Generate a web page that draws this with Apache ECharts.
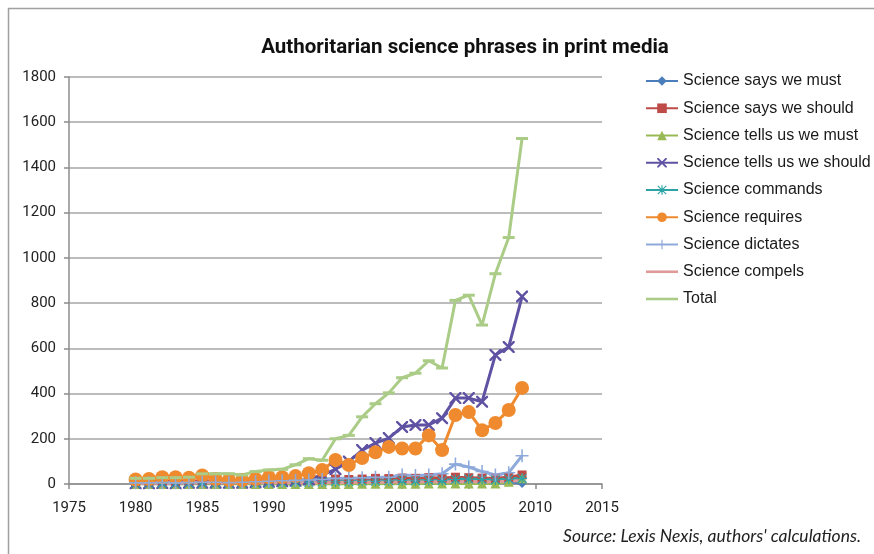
<!DOCTYPE html>
<html>
<head>
<meta charset="utf-8">
<script src="https://cdn.jsdelivr.net/npm/echarts@6/dist/echarts.min.js"></script>
<style>
  html, body { margin: 0; padding: 0; background: #ffffff; }
  #chart { width: 874px; height: 554px; }
</style>
</head>
<body>
<div id="chart"></div>
<script>
// Years covered by the counts
const years = [1980,1981,1982,1983,1984,1985,1986,1987,1988,1989,
               1990,1991,1992,1993,1994,1995,1996,1997,1998,1999,
               2000,2001,2002,2003,2004,2005,2006,2007,2008,2009];

// Phrase counts per year
const saysMust      = [2,1,2,1,2,2,3,2,2,3, 3,4,3,4,5,5,6,5,6,8, 7,8,9,10,12,11,10,9,12,2];
const saysShould    = [10,10,12,10,12,14,12,10,12,14, 15,16,18,16,20,22,20,22,25,24, 26,25,28,27,30,28,26,25,30,40];
const tellsMust     = [0,0,0,0,0,0,0,0,0,0, 0,0,0,0,0,0,0,1,1,1, 1,1,2,2,2,2,2,2,10,25];
const tellsShould   = [3,3,4,3,5,5,6,5,6,8, 10,12,14,20,40,65,99,150,181,203, 252,261,261,291,380,380,364,571,606,829];
const commands      = [3,3,4,3,4,5,5,4,5,6, 6,7,8,8,9,10,10,12,12,14, 15,14,16,15,20,22,20,18,22,25];
const requires      = [20,22,30,30,28,38,22,18,18,22, 30,30,35,48,62,106,84,115,140,164, 157,157,215,150,305,318,238,270,327,425];
const dictates      = [5,5,6,5,6,8,8,6,8,10, 12,14,16,18,20,25,25,28,30,30, 40,38,40,45,88,75,55,40,50,125];
const compels       = [3,3,3,3,4,4,4,4,4,5, 5,5,6,6,6,7,7,8,8,8, 9,9,10,10,10,11,10,10,12,15];
const total         = [25,25,28,28,30,45,45,45,40,55, 62,65,85,112,105,200,215,297,355,403, 470,490,545,513,812,835,703,930,1090,1528];

// Axis ticks
const xTicks = [1975, 1980, 1985, 1990, 1995, 2000, 2005, 2010, 2015];
const yTicks = [0, 200, 400, 600, 800, 1000, 1200, 1400, 1600, 1800];

const chart = echarts.init(document.getElementById('chart'), null, { renderer: 'canvas' });

// Marker shapes
const xMark = 'path://M0,0 L1.4,0 L5,3.6 L8.6,0 L10,0 L10,1.4 L6.4,5 L10,8.6 L10,10 L8.6,10 L5,6.4 L1.4,10 L0,10 L0,8.6 L3.6,5 L0,1.4 Z';
const plusMark = 'path://M4.4,0 H5.6 V4.4 H10 V5.6 H5.6 V10 H4.4 V5.6 H0 V4.4 H4.4 Z';
const starMark = 'path://M4.4,0 H5.6 V4.4 H10 V5.6 H5.6 V10 H4.4 V5.6 H0 V4.4 H4.4 Z M1,0.2 L5,4.2 L9,0.2 L9.8,1 L5.8,5 L9.8,9 L9,9.8 L5,5.8 L1,9.8 L0.2,9 L4.2,5 L0.2,1 Z';
const plainLine = 'path://M0,0 H37 V3 H0 Z';

function pairs(vals) { return years.map((y, i) => [y, vals[i]]); }

function makeSeries(name, vals, color, symbol, size, showSym) {
  return {
    name: name,
    type: 'line',
    data: pairs(vals),
    symbol: symbol,
    symbolSize: size,
    showSymbol: showSym !== false,
    showAllSymbol: true,
    lineStyle: { color: color, width: 3 },
    itemStyle: { color: color, borderWidth: 0 },
    emphasis: { disabled: true },
    animation: false
  };
}

const series = [
  makeSeries('Science says we must', saysMust, '#4a7ebb', 'diamond', 9),
  makeSeries('Science says we should', saysShould, '#be4b48', 'rect', 9),
  makeSeries('Science tells us we must', tellsMust, '#98b954', 'triangle', 10),
  makeSeries('Science tells us we should', tellsShould, '#5f52a3', xMark, 12),
  makeSeries('Science commands', commands, '#2ea3a6', starMark, 10),
  makeSeries('Science requires', requires, '#ef8a2e', 'circle', 14),
  makeSeries('Science dictates', dictates, '#8eaadb', plusMark, 13),
  makeSeries('Science compels', compels, '#e09a9a', 'circle', 0, false),
  makeSeries('Total', total, '#abcc87', 'rect', [12, 3])
];

const legendData = series.map(s =>
  (s.name === 'Total' || s.name === 'Science compels') ? { name: s.name, icon: plainLine } : { name: s.name }
);

const labelFont = "Roboto, 'Liberation Sans', sans-serif";
const noComma = v => String(v);

chart.setOption({
  backgroundColor: '#ffffff',
  animation: false,
  title: {
    text: 'Authoritarian science phrases in print media',
    left: 460,
    textAlign: 'center',
    top: 32,
    textStyle: { fontFamily: labelFont, fontWeight: 'bold', fontSize: 20.5, color: '#111111' }
  },
  legend: {
    orient: 'vertical',
    left: 645,
    top: 73,
    padding: 0,
    itemWidth: 32,
    itemHeight: 12,
    itemGap: 11.25,
    symbolKeepAspect: true,
    textStyle: { fontFamily: "'Liberation Sans', Arial, sans-serif", fontSize: 16, color: '#1a1a1a' },
    data: legendData
  },
  grid: { left: 69, right: 272, top: 77, bottom: 70, containLabel: false },
  xAxis: {
    type: 'value',
    min: xTicks[0],
    max: xTicks[xTicks.length - 1],
    interval: 5,
    axisLine: { show: true, lineStyle: { color: '#8c8c8c', width: 1.5 } },
    axisTick: { show: true, length: 5, lineStyle: { color: '#8c8c8c', width: 1.5 } },
    axisLabel: { fontFamily: labelFont, fontSize: 15, color: '#222222', margin: 17, formatter: noComma },
    splitLine: { show: false }
  },
  yAxis: {
    type: 'value',
    min: yTicks[0],
    max: yTicks[yTicks.length - 1],
    interval: 200,
    axisLine: { show: true, lineStyle: { color: '#8c8c8c', width: 1.5 } },
    axisTick: { show: true, length: 5, lineStyle: { color: '#8c8c8c', width: 1.5 } },
    axisLabel: { fontFamily: labelFont, fontSize: 15, color: '#222222', margin: 13, formatter: noComma },
    splitLine: { show: true, lineStyle: { color: '#a6a6a6', width: 1.5 } }
  },
  graphic: [
    {
      type: 'rect',
      shape: { x: 8.5, y: 8.5, width: 900, height: 600 },
      style: { fill: 'none', stroke: '#a0a0a0', lineWidth: 1.5 },
      silent: true
    },
    {
      type: 'text',
      right: 13,
      top: 527,
      style: {
        text: "Source: Lexis Nexis, authors' calculations.",
        fontFamily: "Lato, 'Open Sans', sans-serif",
        fontStyle: 'italic',
        fontSize: 17.5,
        fill: '#222222'
      },
      silent: true
    }
  ],
  series: series
});
</script>
</body>
</html>
